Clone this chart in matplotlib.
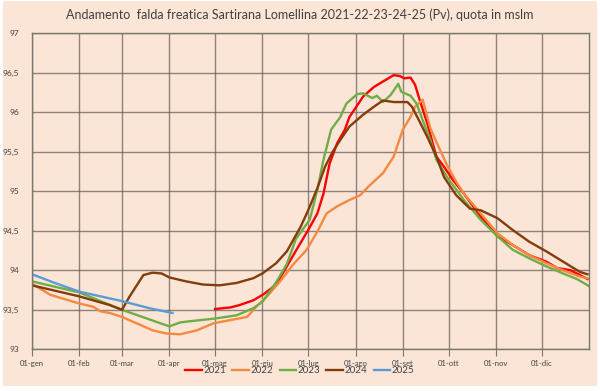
import matplotlib.pyplot as plt
from matplotlib.patches import Rectangle

plt.rcParams['font.family'] = ['Lato', 'DejaVu Sans']

month_days = [0, 31, 59, 90, 120, 151, 181, 212, 243, 273, 304, 334]
month_labels = ['01-gen', '01-feb', '01-mar', '01-apr', '01-mag', '01-giu',
                '01-lug', '01-ago', '01-set', '01-ott', '01-nov', '01-dic']
y_ticks = [93, 93.5, 94, 94.5, 95, 95.5, 96, 96.5, 97]
y_labels = ['93', '93,5', '94', '94,5', '95', '95,5', '96', '96,5', '97']

# giorno dell'anno, quota (m slm)
d2021 = [120, 130, 136, 145, 152, 160, 167, 173, 181, 187, 191, 195, 200, 205, 208,
         217, 224, 230, 237, 241, 244, 248, 251, 254, 259, 265, 270, 276, 283, 294,
         305, 315, 326, 337, 344, 353, 364]
q2021 = [93.51, 93.53, 93.56, 93.62, 93.70, 93.82, 94.05, 94.25, 94.51, 94.72, 94.97,
         95.35, 95.61, 95.78, 95.94, 96.20, 96.32, 96.39, 96.47, 96.46, 96.43, 96.44,
         96.35, 96.16, 95.86, 95.44, 95.31, 95.14, 94.97, 94.68, 94.43, 94.32, 94.19,
         94.11, 94.03, 94.00, 93.89]

d2022 = [0, 12, 31, 40, 45, 51, 59, 66, 71, 79, 88, 97, 108, 119, 130, 141, 147, 154,
         163, 171, 180, 187, 193, 200, 208, 215, 221, 230, 237, 243, 248, 251, 256,
         261, 266, 272, 278, 283, 294, 305, 315, 326, 337, 348, 359, 364]
q2022 = [93.83, 93.69, 93.58, 93.54, 93.48, 93.46, 93.41, 93.35, 93.31, 93.24, 93.20,
         93.19, 93.24, 93.33, 93.37, 93.41, 93.54, 93.67, 93.87, 94.07, 94.26, 94.49,
         94.72, 94.81, 94.89, 94.95, 95.07, 95.23, 95.44, 95.78, 95.94, 96.07, 96.16,
         95.80, 95.58, 95.33, 95.12, 94.97, 94.72, 94.47, 94.32, 94.19, 94.09, 94.00,
         93.92, 93.90]

d2023 = [0, 31, 59, 90, 97, 101, 120, 134, 145, 151, 160, 167, 173, 182, 187, 191, 196,
         202, 206, 213, 217, 223, 226, 230, 235, 240, 242, 248, 252, 256, 261, 265,
         272, 283, 294, 305, 315, 326, 337, 348, 357, 365]
q2023 = [93.86, 93.72, 93.50, 93.29, 93.34, 93.35, 93.39, 93.43, 93.52, 93.60, 93.85,
         94.08, 94.40, 94.64, 95.02, 95.40, 95.78, 95.94, 96.11, 96.23, 96.24, 96.18,
         96.21, 96.13, 96.22, 96.36, 96.26, 96.21, 96.11, 95.90, 95.65, 95.40, 95.18,
         94.89, 94.64, 94.43, 94.26, 94.15, 94.05, 93.96, 93.89, 93.80]

d2024 = [0, 31, 51, 59, 64, 69, 73, 79, 85, 90, 101, 112, 123, 134, 145, 151, 160, 167,
         176, 181, 187, 192, 197, 202, 208, 217, 224, 230, 237, 246, 249, 253, 259,
         265, 270, 278, 287, 294, 305, 315, 326, 337, 348, 359, 364]
q2024 = [93.81, 93.67, 93.56, 93.50, 93.67, 93.82, 93.94, 93.97, 93.96, 93.91, 93.86,
         93.82, 93.81, 93.84, 93.90, 93.96, 94.09, 94.24, 94.55, 94.76, 95.04, 95.31,
         95.50, 95.65, 95.82, 95.97, 96.07, 96.15, 96.13, 96.13, 96.07, 95.92, 95.69,
         95.44, 95.18, 94.95, 94.78, 94.76, 94.66, 94.51, 94.36, 94.24, 94.11, 93.98,
         93.95]

d2025 = [0, 15, 31, 45, 59, 77, 92]
q2025 = [93.95, 93.84, 93.73, 93.67, 93.61, 93.52, 93.46]

fig = plt.figure(figsize=(6, 3.91), dpi=100, facecolor='white')
fig.patches.append(Rectangle((0.005, 0.013), 0.99, 0.985, transform=fig.transFigure,
                             facecolor='#FBE5D6', edgecolor='none', zorder=-10))
ax = fig.add_axes([0.0533, 0.1066, 0.9284, 0.8082])
ax.set_facecolor('#FBE5D6')

ax.plot(d2021, q2021, color='#FF0000', lw=1.7, label='2021')
ax.plot(d2022, q2022, color='#F4893F', lw=1.7, label='2022')
ax.plot(d2023, q2023, color='#70AD47', lw=1.7, label='2023')
ax.plot(d2024, q2024, color='#843C0C', lw=1.7, label='2024')
ax.plot(d2025, q2025, color='#5B9BD5', lw=1.7, label='2025')

ax.set_xlim(0, 365)
ax.set_ylim(93, 97)
ax.set_xticks(month_days)
ax.set_xticklabels(month_labels)
ax.set_yticks(y_ticks)
ax.set_yticklabels(y_labels)
ax.grid(True, color='#5E5A57', lw=1.0, alpha=0.7)
ax.set_axisbelow(True)
for s in ax.spines.values():
    s.set_color('#7A7672')
    s.set_linewidth(1)
ax.tick_params(axis='x', length=5, color='#7A7672', labelsize=5.5, labelcolor='#404040', pad=3)
ax.tick_params(axis='y', length=0, labelsize=6, labelcolor='#404040', pad=9)

fig.text(0.5, 0.962, 'Andamento  falda freatica Sartirana Lomellina 2021-22-23-24-25 (Pv), quota in mslm',
         ha='center', va='center', fontsize=9, color='#404040')
fig.legend(loc='center', bbox_to_anchor=(0.5, 0.052), ncol=5, frameon=False,
           fontsize=7, handlelength=1.7, columnspacing=0.6, handletextpad=0.2,
           labelcolor='#404040')

fig.savefig('out.png', dpi=100, facecolor=fig.get_facecolor())
